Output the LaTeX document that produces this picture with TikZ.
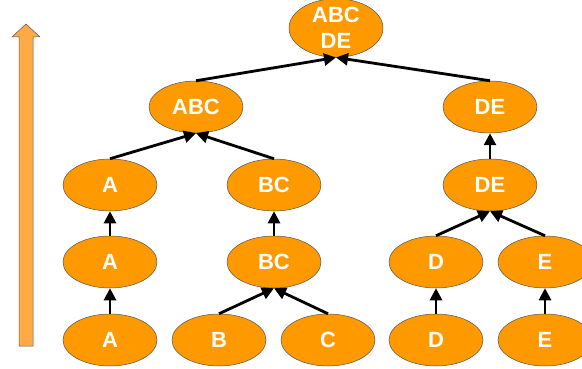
\documentclass[tikz,border=0pt]{standalone}
\usepackage{fontspec}
\setmainfont{Liberation Sans}
\usetikzlibrary{shapes.geometric,arrows.meta}
\definecolor{nodeor}{HTML}{FF9900}
\definecolor{baror}{HTML}{FFAA44}
\definecolor{edgegray}{HTML}{555555}
\begin{document}
\begin{tikzpicture}[x=1pt,y=-1pt,
  nd/.style={ellipse,draw=edgegray,line width=0.5pt,fill=nodeor,minimum width=94pt,minimum height=52pt,inner sep=0pt,
    text=white,font=\fontsize{22}{26}\selectfont\bfseries,align=center},
  arr/.style={line width=2.8pt,-{Triangle[length=12pt,width=12pt]}}]
\useasboundingbox (0,0) rectangle (582,369);
% rising bar arrow
\path[fill=baror,draw=edgegray,line width=0.5pt] (19,346) -- (19,37) -- (12,37) -- (26,24) -- (40,37) -- (33,37) -- (33,346) -- cycle;
% nodes
\node[nd] (top) at (336,28) {ABC\\DE};
\node[nd] (abc) at (196,107) {ABC};
\node[nd] (de4) at (490,107) {DE};
\node[nd] (a3) at (110,185) {A};
\node[nd] (bc3) at (274,185) {BC};
\node[nd] (de3) at (490,185) {DE};
\node[nd] (a2) at (110,262) {A};
\node[nd] (bc2) at (274,262) {BC};
\node[nd] (d2) at (436,262) {D};
\node[nd] (e2) at (545,262) {E};
\node[nd] (a1) at (110,340) {A};
\node[nd] (b1) at (219,340) {B};
\node[nd] (c1) at (328,340) {C};
\node[nd] (d1) at (436,340) {D};
\node[nd] (e1) at (545,340) {E};
% edges
\draw[arr] (abc.north) -- (top.south);
\draw[arr] (de4.north) -- (top.south);
\draw[arr] (a3.north) -- (abc.south);
\draw[arr] (bc3.north) -- (abc.south);
\draw[arr] (de3.north) -- (de4.south);
\draw[arr] (a2.north) -- (a3.south);
\draw[arr] (bc2.north) -- (bc3.south);
\draw[arr] (d2.north) -- (de3.south);
\draw[arr] (e2.north) -- (de3.south);
\draw[arr] (a1.north) -- (a2.south);
\draw[arr] (b1.north) -- (bc2.south);
\draw[arr] (c1.north) -- (bc2.south);
\draw[arr] (d1.north) -- (d2.south);
\draw[arr] (e1.north) -- (e2.south);
\end{tikzpicture}
\end{document}
